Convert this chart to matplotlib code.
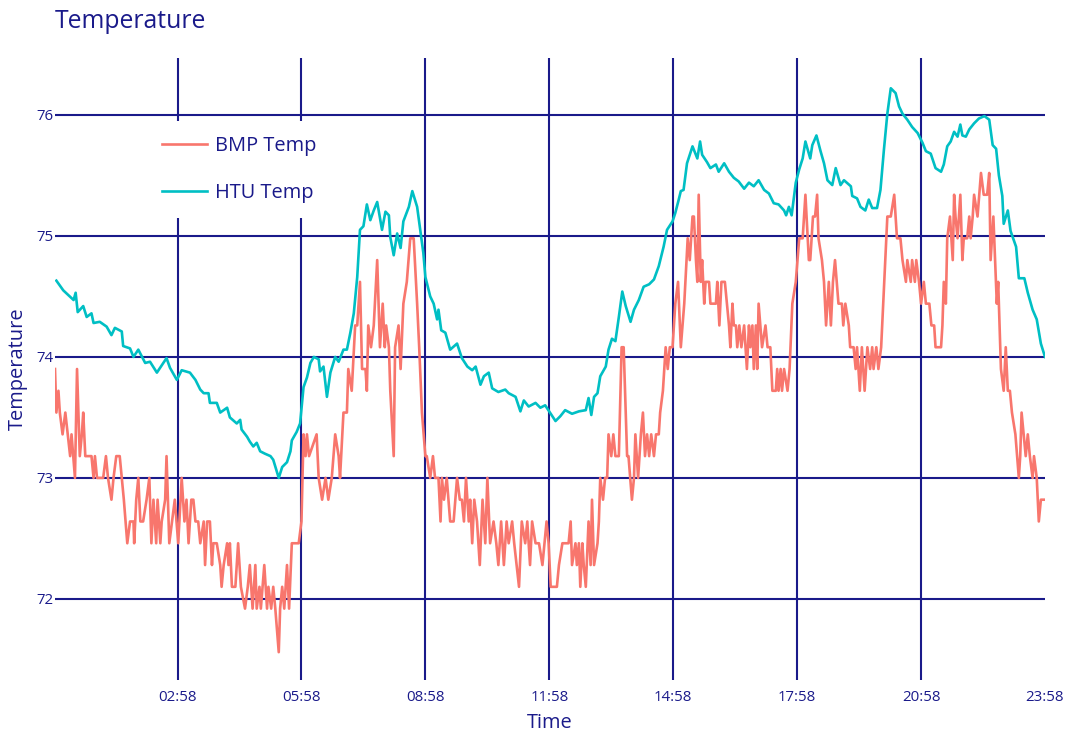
import matplotlib

matplotlib.use('Agg')

from matplotlib import pyplot as plt
from matplotlib.ticker import FuncFormatter

plt.rcParams['font.family'] = ['Open Sans', 'DejaVu Sans']

NAVY = '#1a1a8a'
BMP_COLOR = '#f8766d'
HTU_COLOR = '#00bfc4'

# HTU 센서: 분(자정 기준), 온도(F)
htu_min = [2, 12, 27, 30, 33, 41, 46, 53, 56, 65, 75, 82, 87, 97, 99, 109, 114, 121, 131, 138,
           148, 162, 167, 177, 184, 196, 204, 211, 216, 223, 225, 235, 240, 250, 254, 264, 269, 271, 279, 283,
           288, 293, 298, 305, 313, 317, 325, 330, 337, 342, 344, 351, 356, 361, 366, 371, 376, 383, 385, 390,
           395, 400, 407, 412, 419, 424, 429, 434, 439, 443, 448, 453, 458, 463, 468, 475, 480, 485, 487, 492,
           497, 502, 506, 514, 519, 526, 535, 538, 545, 550, 555, 557, 561, 567, 574, 584, 591, 599, 606, 611,
           618, 623, 630, 635, 644, 654, 659, 669, 676, 681, 688, 698, 705, 712, 720, 727, 734, 741, 751, 761,
           771, 775, 779, 783, 788, 792, 800, 804, 809, 814, 819, 824, 829, 836, 841, 848, 855, 863, 870, 877,
           884, 889, 897, 901, 906, 909, 913, 918, 926, 933, 937, 940, 947, 952, 960, 964, 972, 979, 986, 993,
           1001, 1008, 1015, 1022, 1030, 1037, 1044, 1051, 1059, 1062, 1066, 1070, 1076, 1081, 1086, 1090, 1097, 1100, 1106, 1112,
           1117, 1122, 1129, 1134, 1141, 1146, 1156, 1158, 1165, 1170, 1177, 1182, 1187, 1194, 1199, 1204, 1209, 1214, 1221, 1226,
           1231, 1238, 1245, 1253, 1260, 1265, 1272, 1279, 1287, 1291, 1296, 1301, 1306, 1311, 1315, 1318, 1323, 1328, 1335, 1342,
           1350, 1357, 1362, 1367, 1371, 1376, 1378, 1384, 1388, 1396, 1400, 1408, 1413, 1420, 1426, 1432, 1438]
htu_temp = [74.63, 74.55, 74.47, 74.53, 74.37, 74.42, 74.33, 74.36, 74.28, 74.29, 74.25, 74.18, 74.24, 74.21, 74.09, 74.07, 74.00, 74.06, 73.95, 73.96,
            73.87, 73.99, 73.91, 73.81, 73.89, 73.87, 73.81, 73.73, 73.70, 73.70, 73.62, 73.62, 73.54, 73.58, 73.50, 73.45, 73.48, 73.40, 73.34, 73.30,
            73.26, 73.29, 73.22, 73.20, 73.18, 73.15, 73.00, 73.09, 73.13, 73.22, 73.31, 73.38, 73.45, 73.75, 73.83, 73.95, 74.00, 73.98, 73.88, 73.92,
            73.67, 73.87, 74.00, 73.96, 74.06, 74.06, 74.20, 74.36, 74.66, 75.05, 75.08, 75.26, 75.13, 75.21, 75.28, 75.05, 75.20, 75.17, 74.99, 74.84,
            75.02, 74.90, 75.12, 75.24, 75.37, 75.24, 74.86, 74.66, 74.50, 74.44, 74.31, 74.39, 74.22, 74.20, 74.06, 74.11, 73.99, 73.92, 73.89, 73.92,
            73.77, 73.84, 73.87, 73.74, 73.71, 73.73, 73.70, 73.67, 73.55, 73.64, 73.59, 73.62, 73.58, 73.60, 73.53, 73.47, 73.51, 73.56, 73.53, 73.55,
            73.56, 73.66, 73.52, 73.67, 73.70, 73.84, 73.92, 74.06, 74.15, 74.13, 74.33, 74.54, 74.42, 74.29, 74.39, 74.47, 74.58, 74.60, 74.64, 74.75,
            74.91, 75.05, 75.12, 75.19, 75.30, 75.37, 75.38, 75.60, 75.74, 75.64, 75.78, 75.67, 75.61, 75.56, 75.59, 75.53, 75.60, 75.53, 75.48, 75.45,
            75.39, 75.44, 75.41, 75.46, 75.38, 75.35, 75.27, 75.26, 75.21, 75.17, 75.24, 75.17, 75.44, 75.55, 75.64, 75.78, 75.64, 75.75, 75.83, 75.70,
            75.60, 75.46, 75.42, 75.56, 75.42, 75.46, 75.41, 75.33, 75.31, 75.24, 75.21, 75.30, 75.23, 75.23, 75.38, 75.71, 76.01, 76.22, 76.18, 76.07,
            76.01, 75.96, 75.90, 75.85, 75.77, 75.70, 75.68, 75.56, 75.53, 75.59, 75.74, 75.78, 75.86, 75.82, 75.92, 75.83, 75.82, 75.88, 75.93, 75.97,
            75.99, 75.96, 75.75, 75.72, 75.50, 75.33, 75.10, 75.21, 75.04, 74.91, 74.65, 74.65, 74.53, 74.39, 74.31, 74.11, 74.00]

# BMP 센서: 분(자정 기준), 온도(F)
bmp_min = [0, 2, 5, 7, 11, 15, 22, 24, 29, 32, 36, 39, 41, 44, 53, 56, 58, 61, 70, 74,
           77, 82, 85, 89, 94, 97, 100, 105, 109, 114, 115, 118, 121, 124, 128, 133, 137, 140, 143, 147,
           149, 153, 155, 160, 162, 166, 170, 174, 179, 184, 188, 191, 194, 198, 201, 204, 208, 211, 216, 218,
           221, 225, 228, 230, 235, 240, 242, 245, 250, 252, 254, 257, 262, 266, 270, 276, 280, 283, 287, 291,
           293, 297, 299, 304, 308, 310, 314, 317, 320, 325, 327, 330, 333, 337, 340, 344, 354, 358, 361, 364,
           366, 369, 380, 383, 388, 393, 397, 402, 407, 412, 414, 419, 424, 426, 431, 436, 439, 443, 446, 451,
           453, 455, 459, 463, 468, 472, 476, 479, 481, 485, 487, 492, 494, 499, 502, 506, 511, 516, 521, 526,
           529, 533, 538, 540, 545, 549, 552, 557, 560, 562, 565, 569, 574, 579, 584, 588, 591, 594, 597, 601,
           603, 606, 609, 613, 617, 621, 625, 628, 632, 637, 641, 644, 648, 652, 656, 659, 664, 667, 674, 678,
           683, 686, 690, 693, 698, 703, 708, 711, 714, 717, 720, 729, 732, 737, 746, 749, 751, 756, 758, 761,
           763, 766, 768, 771, 775, 778, 780, 783, 788, 790, 792, 796, 799, 802, 804, 808, 811, 814, 819, 823,
           826, 831, 833, 838, 841, 843, 847, 851, 854, 857, 860, 863, 866, 870, 873, 877, 879, 883, 887, 890,
           893, 897, 901, 905, 909, 914, 919, 922, 926, 928, 931, 933, 935, 938, 940, 943, 945, 950, 952, 960,
           962, 965, 968, 973, 976, 979, 981, 984, 986, 989, 991, 994, 997, 1001, 1003, 1005, 1008, 1010, 1013, 1015,
           1018, 1020, 1022, 1027, 1032, 1035, 1039, 1042, 1047, 1049, 1051, 1054, 1056, 1059, 1064, 1067, 1071, 1076, 1081, 1086,
           1090, 1095, 1097, 1101, 1104, 1107, 1109, 1114, 1117, 1120, 1124, 1127, 1130, 1133, 1138, 1143, 1145, 1148, 1153, 1155,
           1160, 1163, 1165, 1169, 1172, 1176, 1180, 1184, 1187, 1189, 1193, 1196, 1200, 1209, 1214, 1219, 1223, 1228, 1231, 1236,
           1238, 1243, 1245, 1249, 1251, 1255, 1258, 1262, 1265, 1270, 1273, 1277, 1279, 1287, 1289, 1291, 1294, 1296, 1300, 1304,
           1306, 1308, 1311, 1315, 1318, 1320, 1325, 1328, 1330, 1333, 1335, 1340, 1345, 1349, 1354, 1357, 1359, 1363, 1368, 1370,
           1374, 1378, 1381, 1384, 1387, 1390, 1395, 1400, 1402, 1404, 1410, 1413, 1416, 1420, 1422, 1426, 1429, 1432, 1438]
bmp_temp = [73.90, 73.54, 73.72, 73.54, 73.36, 73.54, 73.18, 73.36, 73.00, 73.90, 73.18, 73.36, 73.54, 73.18, 73.18, 73.00, 73.18, 73.00, 73.00, 73.18,
            73.00, 72.82, 73.00, 73.18, 73.18, 73.00, 72.82, 72.46, 72.64, 72.64, 72.46, 72.82, 73.00, 72.64, 72.64, 72.82, 73.00, 72.46, 72.82, 72.46,
            72.82, 72.46, 72.64, 72.82, 73.18, 72.46, 72.64, 72.82, 72.46, 73.00, 72.64, 72.82, 72.46, 72.82, 72.82, 72.64, 72.64, 72.46, 72.64, 72.28,
            72.64, 72.64, 72.28, 72.46, 72.46, 72.28, 72.10, 72.28, 72.46, 72.28, 72.46, 72.10, 72.10, 72.46, 72.10, 71.92, 72.10, 72.28, 71.92, 72.28,
            71.92, 72.10, 71.92, 72.28, 71.92, 72.10, 71.92, 72.10, 71.92, 71.56, 71.92, 72.10, 71.92, 72.28, 71.92, 72.46, 72.46, 72.64, 73.36, 73.18,
            73.36, 73.18, 73.36, 73.00, 72.82, 73.00, 72.82, 73.00, 73.36, 73.18, 73.00, 73.54, 73.54, 73.90, 73.72, 74.26, 74.26, 74.62, 73.90, 73.90,
            73.72, 74.26, 74.08, 74.26, 74.80, 74.08, 74.44, 74.08, 74.26, 74.08, 73.72, 73.18, 74.08, 74.26, 73.90, 74.44, 74.62, 74.98, 74.98, 74.44,
            74.08, 73.54, 73.18, 73.18, 73.00, 73.18, 73.00, 73.00, 72.64, 73.00, 72.82, 73.00, 72.64, 72.64, 73.00, 72.82, 72.82, 72.64, 73.00, 72.64,
            72.82, 72.46, 72.82, 72.64, 72.28, 72.82, 72.46, 73.00, 72.46, 72.64, 72.46, 72.28, 72.64, 72.28, 72.64, 72.46, 72.64, 72.46, 72.10, 72.64,
            72.46, 72.64, 72.28, 72.64, 72.46, 72.46, 72.28, 72.46, 72.64, 72.46, 72.10, 72.10, 72.28, 72.46, 72.46, 72.64, 72.28, 72.46, 72.28, 72.46,
            72.10, 72.46, 72.28, 72.10, 72.64, 72.28, 72.82, 72.28, 72.46, 72.64, 73.00, 72.82, 73.00, 73.00, 73.36, 73.18, 73.36, 73.18, 73.18, 74.08,
            74.08, 73.18, 73.18, 72.82, 73.00, 73.36, 73.00, 73.36, 73.54, 73.18, 73.36, 73.18, 73.36, 73.18, 73.36, 73.36, 73.54, 73.72, 74.08, 73.90,
            74.08, 74.08, 74.44, 74.62, 74.08, 74.44, 74.98, 74.80, 75.16, 75.16, 74.80, 74.62, 75.34, 74.62, 74.80, 74.44, 74.62, 74.62, 74.44, 74.44,
            74.62, 74.26, 74.62, 74.62, 74.44, 74.26, 74.08, 74.44, 74.26, 74.26, 74.08, 74.26, 74.08, 74.26, 74.08, 73.90, 74.26, 74.08, 74.26, 73.90,
            74.26, 73.90, 74.44, 74.08, 74.26, 74.08, 74.08, 73.72, 73.72, 73.90, 73.72, 73.90, 73.72, 73.90, 73.72, 73.90, 74.44, 74.62, 74.98, 74.98,
            75.34, 74.80, 74.80, 75.16, 75.16, 75.34, 74.98, 74.80, 74.62, 74.26, 74.62, 74.26, 74.62, 74.80, 74.44, 74.44, 74.26, 74.44, 74.26, 74.08,
            74.08, 73.90, 74.08, 73.72, 74.08, 73.72, 74.08, 73.90, 74.08, 73.90, 74.08, 73.90, 74.08, 75.16, 75.16, 75.34, 74.98, 74.98, 74.80, 74.62,
            74.80, 74.62, 74.80, 74.62, 74.80, 74.62, 74.44, 74.62, 74.44, 74.44, 74.26, 74.26, 74.08, 74.08, 74.26, 74.62, 74.44, 74.98, 75.16, 74.80,
            75.34, 75.16, 74.98, 75.34, 74.80, 74.98, 74.98, 75.16, 74.98, 75.16, 75.34, 75.16, 75.52, 75.34, 75.34, 75.52, 74.80, 75.16, 74.44, 74.62,
            73.90, 73.72, 74.08, 73.72, 73.72, 73.54, 73.36, 73.00, 73.18, 73.54, 73.18, 73.36, 73.18, 73.00, 73.18, 73.00, 72.64, 72.82, 72.82]

y_ticks = [72, 73, 74, 75, 76]
x_ticks = [178, 358, 538, 718, 898, 1078, 1258, 1438]


def hhmm(x, pos):
    m = int(round(x))
    return f"{m // 60:02d}:{m % 60:02d}"


fig = plt.figure(figsize=(10.69, 7.44), dpi=100)
ax = fig.add_axes([55 / 1069, 1 - 680 / 744, 990 / 1069, 622 / 744])

ax.plot(bmp_min, bmp_temp, color=BMP_COLOR, linewidth=1.9, label='BMP Temp', zorder=3)
ax.plot(htu_min, htu_temp, color=HTU_COLOR, linewidth=1.9, label='HTU Temp', zorder=3)

ax.set_xlim(0, 1438)
ax.set_ylim(71.33, 76.47)
ax.set_xticks(x_ticks)
ax.set_yticks(y_ticks)
ax.xaxis.set_major_formatter(FuncFormatter(hhmm))
ax.grid(True, color=NAVY, linewidth=1.5)
ax.set_axisbelow(True)
# 오른쪽 끝(23:58) 세로 격자선은 숨김
ax.xaxis.get_major_ticks()[-1].gridline.set_visible(False)
for s in ax.spines.values():
    s.set_visible(False)
ax.tick_params(length=0, labelsize=10.8, colors=NAVY, pad=1.3)
ax.tick_params(axis='x', pad=7)

ax.set_xlabel('Time', fontsize=14.4, color=NAVY, labelpad=6)
ax.set_ylabel('Temperature', fontsize=14.4, color=NAVY, labelpad=6)
fig.text(55 / 1069, 1 - 21 / 744, 'Temperature', fontsize=17.8, color=NAVY, va='center', ha='left')

leg = ax.legend(loc='upper left', bbox_to_anchor=(92 / 990, (680 - 121) / 622),
                fontsize=14.4, frameon=True, facecolor='white', edgecolor='none', framealpha=1,
                handlelength=2.25, handletextpad=0.4, labelspacing=1.35, borderpad=0.75, borderaxespad=0)
for t in leg.get_texts():
    t.set_color(NAVY)
leg.get_frame().set_boxstyle('square', pad=0)

plt.savefig('out.png', dpi=100)
plt.close()
